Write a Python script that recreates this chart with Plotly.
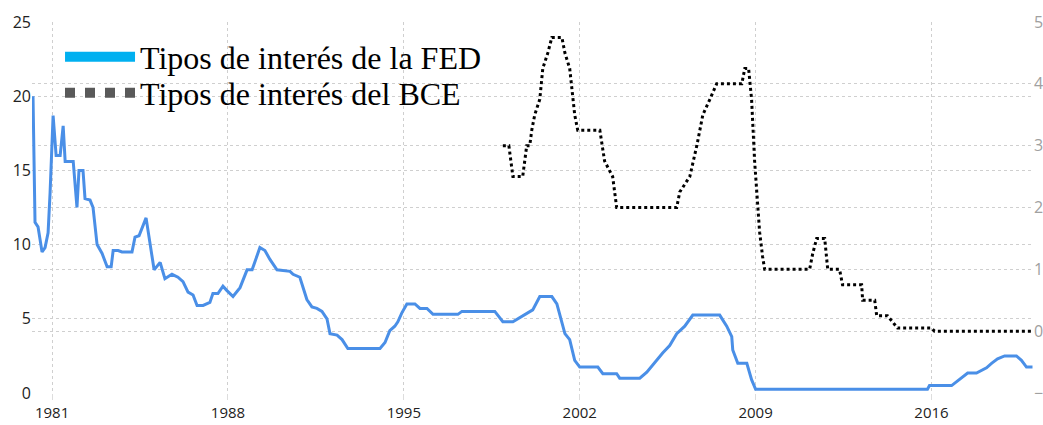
import plotly.graph_objects as go

# FED funds rate (decimal year, %)
fed_x = [1980.24, 1980.32, 1980.44, 1980.60, 1980.72, 1980.84, 1980.92, 1981.04, 1981.16, 1981.32,
         1981.44, 1981.52, 1981.84, 1981.99, 1982.07, 1982.23, 1982.31, 1982.51, 1982.63, 1982.79,
         1982.99, 1983.19, 1983.35, 1983.43, 1983.63, 1983.78, 1984.18, 1984.30, 1984.46, 1984.74,
         1985.06, 1985.30, 1985.49, 1985.77, 1986.01, 1986.21, 1986.41, 1986.61, 1986.77, 1987.01,
         1987.28, 1987.40, 1987.60, 1987.80, 1987.96, 1988.20, 1988.48, 1988.76, 1988.96, 1989.27,
         1989.47, 1989.67, 1989.95, 1990.47, 1990.59, 1990.86, 1991.14, 1991.34, 1991.54, 1991.74,
         1991.94, 1992.06, 1992.34, 1992.54, 1992.77, 1994.05, 1994.25, 1994.44, 1994.64, 1994.76,
         1994.92, 1995.12, 1995.44, 1995.64, 1995.92, 1996.16, 1997.15, 1997.31, 1998.62, 1998.94,
         1999.34, 1999.62, 1999.89, 2000.13, 2000.41, 2000.89, 2001.09, 2001.21, 2001.41, 2001.60,
         2001.80, 2002.00, 2002.72, 2002.92, 2003.47, 2003.59, 2004.39, 2004.67, 2004.99, 2005.30,
         2005.58, 2005.86, 2006.18, 2006.50, 2007.57, 2007.85, 2008.05, 2008.09, 2008.29, 2008.65,
         2008.84, 2009.00, 2015.84, 2015.92, 2016.80, 2017.00, 2017.24, 2017.44, 2017.79, 2018.00,
         2018.19, 2018.39, 2018.63, 2018.91, 2019.38, 2019.58, 2019.78, 2020.02]
fed_y = [20.0, 11.5, 11.2, 9.5, 9.8, 10.8, 13.5, 18.7, 16.0, 16.0,
         18.0, 15.6, 15.6, 12.5, 15.0, 15.0, 13.1, 13.0, 12.5, 10.0,
         9.4, 8.5, 8.5, 9.6, 9.6, 9.5, 9.5, 10.5, 10.6, 11.8,
         8.3, 8.8, 7.7, 8.0, 7.8, 7.5, 6.8, 6.6, 5.9, 5.9,
         6.1, 6.7, 6.7, 7.2, 6.9, 6.5, 7.1, 8.3, 8.3, 9.8,
         9.6, 9.0, 8.3, 8.2, 8.0, 7.8, 6.3, 5.8, 5.7, 5.5,
         5.0, 4.0, 3.9, 3.6, 3.0, 3.0, 3.4, 4.2, 4.5, 4.8,
         5.4, 6.0, 6.0, 5.7, 5.7, 5.3, 5.3, 5.5, 5.5, 4.8,
         4.8, 5.1, 5.4, 5.6, 6.5, 6.5, 6.0, 5.3, 4.0, 3.6,
         2.2, 1.75, 1.75, 1.3, 1.3, 1.0, 1.0, 1.4, 2.1, 2.7,
         3.2, 4.0, 4.5, 5.25, 5.25, 4.5, 3.8, 2.9, 2.0, 2.0,
         0.9, 0.25, 0.25, 0.5, 0.5, 0.75, 1.1, 1.35, 1.35, 1.55,
         1.7, 2.0, 2.3, 2.5, 2.5, 2.2, 1.75, 1.75]

# ECB main refinancing rate (decimal year, %)
ecb_x = [1998.94, 1999.18, 1999.34, 1999.73, 1999.89, 2000.01, 2000.09, 2000.21, 2000.41, 2000.53,
         2000.73, 2000.89, 2001.29, 2001.41, 2001.60, 2001.72, 2001.80, 2001.92, 2002.80, 2002.99,
         2003.31, 2003.47, 2005.86, 2005.98, 2006.38, 2006.66, 2006.90, 2007.18, 2007.45, 2008.45,
         2008.57, 2008.72, 2008.84, 2008.96, 2009.08, 2009.16, 2009.28, 2009.36, 2011.15, 2011.27,
         2011.43, 2011.75, 2011.87, 2012.34, 2012.46, 2013.22, 2013.26, 2013.74, 2013.82, 2014.25,
         2014.45, 2014.65, 2016.00, 2016.12, 2019.98]
ecb_y = [3.0, 3.0, 2.5, 2.5, 3.0, 3.0, 3.25, 3.5, 3.75, 4.25,
         4.5, 4.75, 4.75, 4.5, 4.25, 3.75, 3.5, 3.25, 3.25, 2.75,
         2.5, 2.0, 2.0, 2.25, 2.5, 3.0, 3.5, 3.75, 4.0, 4.0,
         4.25, 4.25, 3.75, 2.75, 2.0, 1.6, 1.2, 1.0, 1.0, 1.25,
         1.5, 1.5, 1.0, 1.0, 0.75, 0.75, 0.5, 0.5, 0.25, 0.25,
         0.15, 0.05, 0.05, 0.0, 0.0]

year_ticks = [1981, 1988, 1995, 2002, 2009, 2016]
left_ticks = [0, 5, 10, 15, 20, 25]
right_ticks = [-1, 0, 1, 2, 3, 4, 5]
legend_names = ["Tipos de interés de la FED", "Tipos de interés del BCE"]

fig = go.Figure()
fig.add_trace(go.Scatter(x=fed_x, y=fed_y, mode="lines", showlegend=False,
                         line=dict(color="#4A8FE7", width=3)))
fig.add_trace(go.Scatter(x=ecb_x, y=ecb_y, mode="lines", showlegend=False, yaxis="y2",
                         line=dict(color="#000000", width=3, dash="dot")))
# legend entries
fig.add_trace(go.Scatter(x=[None], y=[None], mode="lines", name=legend_names[0], legend="legend",
                         line=dict(color="#00B0F0", width=11)))
fig.add_trace(go.Scatter(x=[None], y=[None], mode="lines", name=legend_names[1], legend="legend2",
                         line=dict(color="#595959", width=12, dash="dot")))

grid = "#CFCFCF"
legfont = dict(family="Liberation Serif", size=32, color="#000000")
fig.update_layout(
    width=1043, height=425,
    margin=dict(l=32, r=10, t=22, b=32, autoexpand=False),
    paper_bgcolor="white", plot_bgcolor="white",
    font=dict(family="Open Sans", size=15, color="#222222"),
    legend=dict(x=0.028, y=0.906, xanchor="left", yanchor="middle",
                bgcolor="rgba(0,0,0,0)", borderwidth=0, itemwidth=70, font=legfont),
    legend2=dict(x=0.028, y=0.809, xanchor="left", yanchor="middle",
                 bgcolor="rgba(0,0,0,0)", borderwidth=0, itemwidth=70, font=legfont),
    xaxis=dict(range=[1980.2, 2020.04], tickvals=year_ticks, ticktext=[str(t) for t in year_ticks],
               showgrid=True, gridcolor=grid, griddash="dot", gridwidth=1, automargin=False,
               zeroline=False, showline=False, ticks="outside", ticklen=6, tickcolor="#DDDDDD",
               tickfont=dict(family="Open Sans", size=15, color="#222222")),
    yaxis=dict(range=[0, 25], tickvals=left_ticks, showgrid=True, gridcolor=grid, griddash="dot",
               zeroline=False, showline=False, ticks="", automargin=False,
               tickfont=dict(family="Open Sans", size=16, color="#222222")),
    yaxis2=dict(range=[-1, 5], tickvals=right_ticks, overlaying="y", side="right", automargin=False,
                showgrid=True, gridcolor=grid, griddash="dot", zeroline=False, showline=False,
                ticks="", tickfont=dict(family="Open Sans", size=16, color="#A0A0A0")),
)
fig.write_html("out.html", config={"displayModeBar": False},
               post_script="document.body.style.margin='0';")
